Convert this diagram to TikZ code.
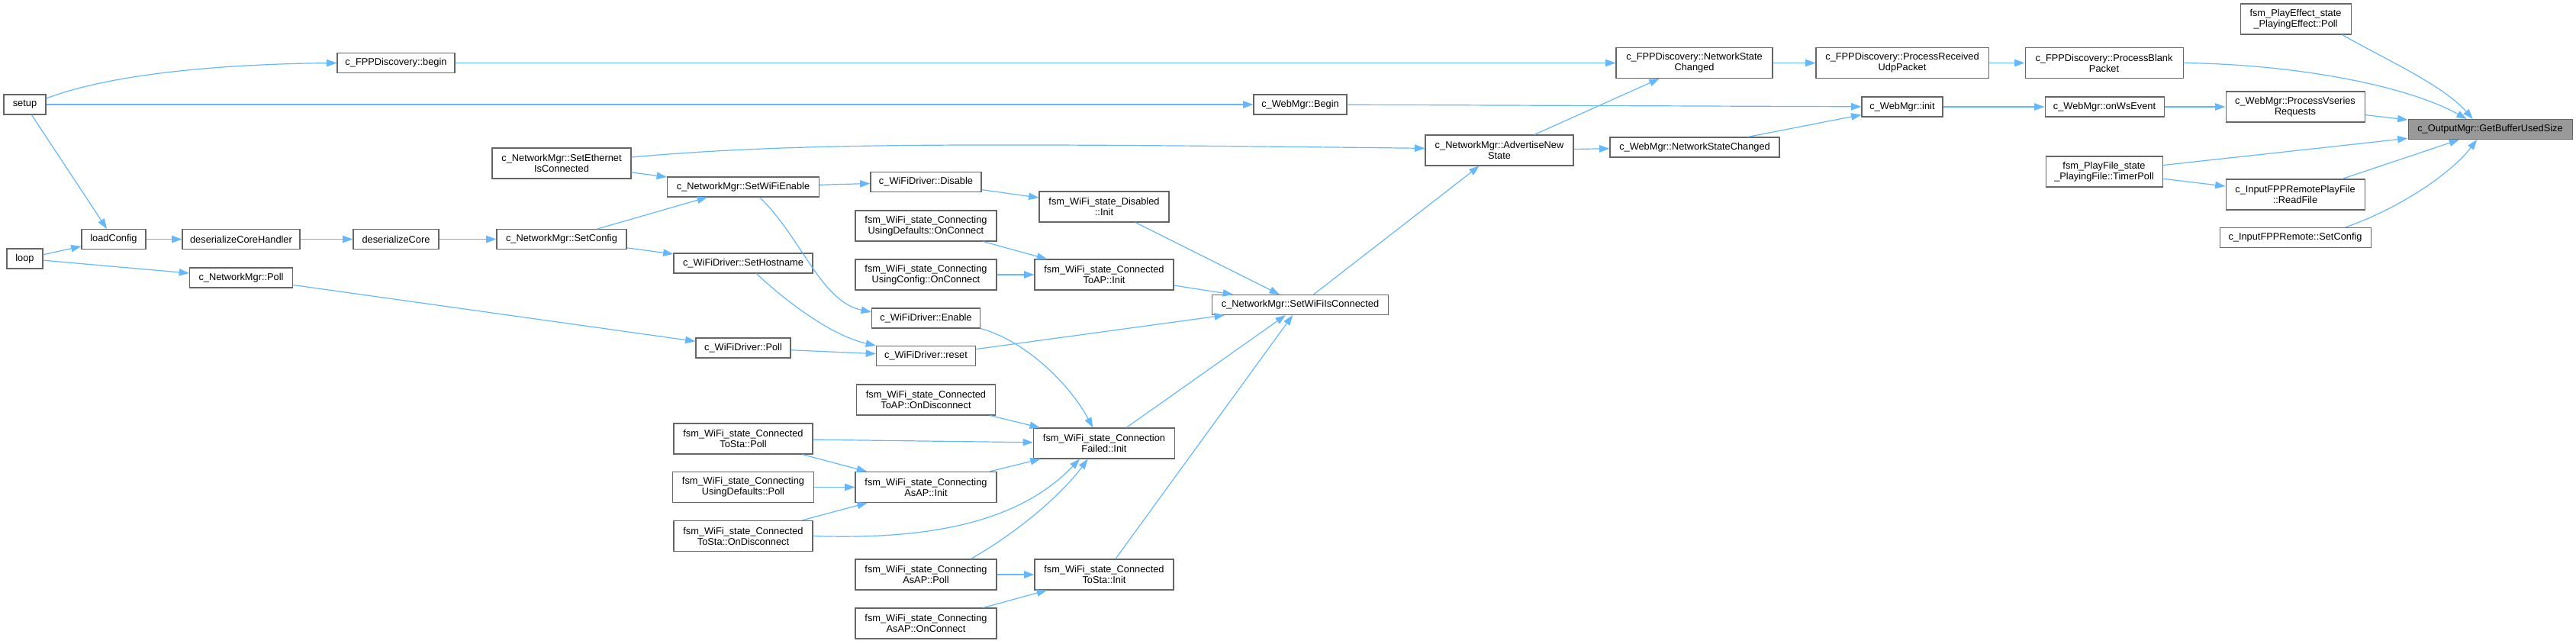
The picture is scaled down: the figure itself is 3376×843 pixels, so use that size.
\documentclass[tikz,border=0pt]{standalone}
\usepackage{fontspec}
\setmainfont{Liberation Sans}
\usetikzlibrary{arrows.meta}
\definecolor{edgeblue}{RGB}{99, 184, 255}
\definecolor{boxline}{RGB}{102, 102, 102}
\definecolor{focusgray}{RGB}{153, 153, 153}
\tikzset{
  fn/.style      = {rectangle, draw=boxline, fill=white, line width=0.8pt, inner sep=0pt, align=center, font=\fontsize{9.6}{10.5}\selectfont, minimum height=19.5pt},
  fntwo/.style   = {fn, minimum height=30pt},
  fnfocus/.style = {fn, fill=focusgray},
  bw/.style      = {minimum width=#1*0.75pt},
  call/.style    = {-{Triangle[length=10pt, width=7pt]}, line width=0.9pt, edgeblue},
}

\begin{document}
\begin{tikzpicture}[x=0.75pt, y=-0.75pt]
\useasboundingbox (0,0) rectangle (3376,843);

% entry points
\node[fn, bw=55] (setup) at (32.5,137) {setup};
\node[fn, bw=47] (loop) at (32.5,339) {loop};

% config loading
\node[fn, bw=84] (loadcfg) at (149,313.5) {loadConfig};
\node[fn, bw=154] (deshandler) at (316,313.5) {deserializeCoreHandler};
\node[fn, bw=135] (nmpoll) at (316,364) {c\_NetworkMgr::Poll};
\node[fn, bw=154] (fppbegin) at (519,82.5) {c\_FPPDiscovery::begin};
\node[fn, bw=112] (descore) at (519,313.5) {deserializeCore};
\node[fntwo, bw=182] (ethconn) at (736,214) {c\_NetworkMgr::SetEthernet\\IsConnected};
\node[fn, bw=170] (setcfg) at (736,313.5) {c\_NetworkMgr::SetConfig};

% wifi driver column
\node[fn, bw=199] (wifienable) at (974,245) {c\_NetworkMgr::SetWiFiEnable};
\node[fn, bw=182] (sethost) at (974,345) {c\_WiFiDriver::SetHostname};
\node[fn, bw=124] (wpoll) at (974,456) {c\_WiFiDriver::Poll};
\node[fntwo, bw=182] (stapoll) at (974,575) {fsm\_WiFi\_state\_Connected\\ToSta::Poll};
\node[fntwo, bw=185] (usedefpoll) at (974,638.5) {fsm\_WiFi\_state\_Connecting\\UsingDefaults::Poll};
\node[fntwo, bw=182] (stadisc) at (974,702.5) {fsm\_WiFi\_state\_Connected\\ToSta::OnDisconnect};

% driver calls and fsm states
\node[fn, bw=145] (wdisable) at (1213.5,238.5) {c\_WiFiDriver::Disable};
\node[fntwo, bw=185] (usedefconn) at (1213.5,296) {fsm\_WiFi\_state\_Connecting\\UsingDefaults::OnConnect};
\node[fntwo, bw=185] (usecfgconn) at (1213.5,360) {fsm\_WiFi\_state\_Connecting\\UsingConfig::OnConnect};
\node[fn, bw=142] (wenable) at (1213.5,417) {c\_WiFiDriver::Enable};
\node[fn, bw=130] (wreset) at (1213.5,466.5) {c\_WiFiDriver::reset};
\node[fntwo, bw=182] (apdisc) at (1213.5,524) {fsm\_WiFi\_state\_Connected\\ToAP::OnDisconnect};
\node[fntwo, bw=185] (asapinit) at (1213.5,638.5) {fsm\_WiFi\_state\_Connecting\\AsAP::Init};
\node[fntwo, bw=185] (asappoll) at (1213.5,753) {fsm\_WiFi\_state\_Connecting\\AsAP::Poll};
\node[fntwo, bw=185] (asapconn) at (1213.5,817) {fsm\_WiFi\_state\_Connecting\\AsAP::OnConnect};

\node[fntwo, bw=170] (disinit) at (1447,271) {fsm\_WiFi\_state\_Disabled\\::Init};
\node[fntwo, bw=182] (apinit) at (1447,360) {fsm\_WiFi\_state\_Connected\\ToAP::Init};
\node[fntwo, bw=185] (failinit) at (1447,581) {fsm\_WiFi\_state\_Connection\\Failed::Init};
\node[fntwo, bw=182] (stainit) at (1447,753) {fsm\_WiFi\_state\_Connected\\ToSta::Init};

% network manager / web manager
\node[fn, bw=122] (webbegin) at (1704,137) {c\_WebMgr::Begin};
\node[fn, bw=231] (wificonn) at (1704,399.5) {c\_NetworkMgr::SetWiFiIsConnected};
\node[fntwo, bw=194] (advstate) at (1965,197) {c\_NetworkMgr::AdvertiseNew\\State};
\node[fntwo, bw=205] (fppnet) at (2220.5,82.5) {c\_FPPDiscovery::NetworkState\\Changed};
\node[fn, bw=222] (webnet) at (2221,193) {c\_WebMgr::NetworkStateChanged};
\node[fntwo, bw=226] (udppkt) at (2493,82.5) {c\_FPPDiscovery::ProcessReceived\\UdpPacket};
\node[fn, bw=106] (webinit) at (2493,140) {c\_WebMgr::init};

% direct callers of the output manager
\node[fntwo, bw=207] (blankpkt) at (2757.5,82.5) {c\_FPPDiscovery::ProcessBlank\\Packet};
\node[fn, bw=156] (onws) at (2758,140) {c\_WebMgr::onWsEvent};
\node[fntwo, bw=153] (timerpoll) at (2757.5,225) {fsm\_PlayFile\_state\\\_PlayingFile::TimerPoll};
\node[fntwo, bw=145] (effpoll) at (3008.5,25) {fsm\_PlayEffect\_state\\\_PlayingEffect::Poll};
\node[fntwo, bw=182] (vseries) at (3008,140) {c\_WebMgr::ProcessVseries\\Requests};
\node[fntwo, bw=182] (readfile) at (3008,255) {c\_InputFPPRemotePlayFile\\::ReadFile};
\node[fn, bw=198] (remcfg) at (3008,311.5) {c\_InputFPPRemote::SetConfig};
\node[fnfocus, bw=215] (bufsize) at (3263.5,169.5) {c\_OutputMgr::GetBufferUsedSize};

% left side calls
\draw[call] ([yshift=6pt]setup.east) .. controls (150,95) and (300,84) .. (fppbegin.west);
\draw[call] (setup) -- (webbegin);
\draw[call] (setup) -- (loadcfg);
\draw[call] (loop) -- (loadcfg);
\draw[call] (loop) -- (nmpoll);
\draw[call] (loadcfg) -- (deshandler);
\draw[call] (deshandler) -- (descore);
\draw[call] (descore) -- (setcfg);
\draw[call] (setcfg) -- (wifienable);
\draw[call] (setcfg) -- (sethost);
\draw[call] (ethconn) -- (wifienable);
\draw[call] ([yshift=6pt]ethconn.east) .. controls (1050,186) and (1300,188) .. ([yshift=2pt]advstate.west);
\draw[call] (nmpoll) -- (wpoll);

% wifi driver
\draw[call] (wifienable) -- (wdisable);
\draw[call] ([xshift=16pt]wifienable.south) .. controls (1050,310) and (1075,395) .. ([yshift=6pt]wenable.west);
\draw[call] ([xshift=13pt]sethost.south) .. controls (1030,395) and (1090,440) .. (wreset.north west);
\draw[call] (wpoll) -- (wreset);
\draw[call] (wdisable) -- (disinit);
\draw[call] (usedefconn) -- (apinit);
\draw[call] (usecfgconn) -- (apinit);
\draw[call] (wenable.south east) .. controls (1340,445) and (1400,500) .. ([xshift=-11pt]failinit.north);

% fsm states
\draw[call] (apdisc) -- (failinit);
\draw[call] (stapoll) -- (failinit);
\draw[call] (stapoll) -- (asapinit);
\draw[call] (usedefpoll) -- (asapinit);
\draw[call] (stadisc) -- (asapinit);
\draw[call] (stadisc.east) .. controls (1230,708) and (1340,680) .. ([xshift=-24pt]failinit.south);
\draw[call] (asapinit) -- (failinit);
\draw[call] ([xshift=44pt]asappoll.north) .. controls (1330,700) and (1390,650) .. ([xshift=-16pt]failinit.south);
\draw[call] (asappoll) -- (stainit);
\draw[call] (asapconn) -- (stainit);

% into SetWiFiIsConnected
\draw[call] (wreset) -- (wificonn);
\draw[call] (disinit) -- (wificonn);
\draw[call] (apinit) -- (wificonn);
\draw[call] (failinit) -- (wificonn);
\draw[call] (stainit) -- (wificonn);
\draw[call] (wificonn) -- (advstate);

% right side calls
\draw[call] (fppbegin) -- (fppnet);
\draw[call] (advstate) -- (fppnet);
\draw[call] (advstate) -- (webnet);
\draw[call] (webbegin) -- (webinit);
\draw[call] (webnet) -- (webinit);
\draw[call] (fppnet) -- (udppkt);
\draw[call] (udppkt) -- (blankpkt);
\draw[call] (webinit) -- (onws);
\draw[call] (onws) -- (vseries);
\draw[call] (timerpoll) -- (readfile);

% into GetBufferUsedSize
\draw[call] (blankpkt.east) .. controls (3000,84) and (3150,110) .. ([xshift=-23pt]bufsize.north);
\draw[call] ([xshift=46pt]effpoll.south) .. controls (3120,75) and (3200,110) .. ([xshift=-17pt]bufsize.north);
\draw[call] (vseries) -- (bufsize);
\draw[call] (timerpoll) -- (bufsize);
\draw[call] (readfile) -- (bufsize);
\draw[call] ([xshift=49pt]remcfg.north) .. controls (3140,275) and (3210,230) .. ([xshift=-13pt]bufsize.south);

\end{tikzpicture}
\end{document}
